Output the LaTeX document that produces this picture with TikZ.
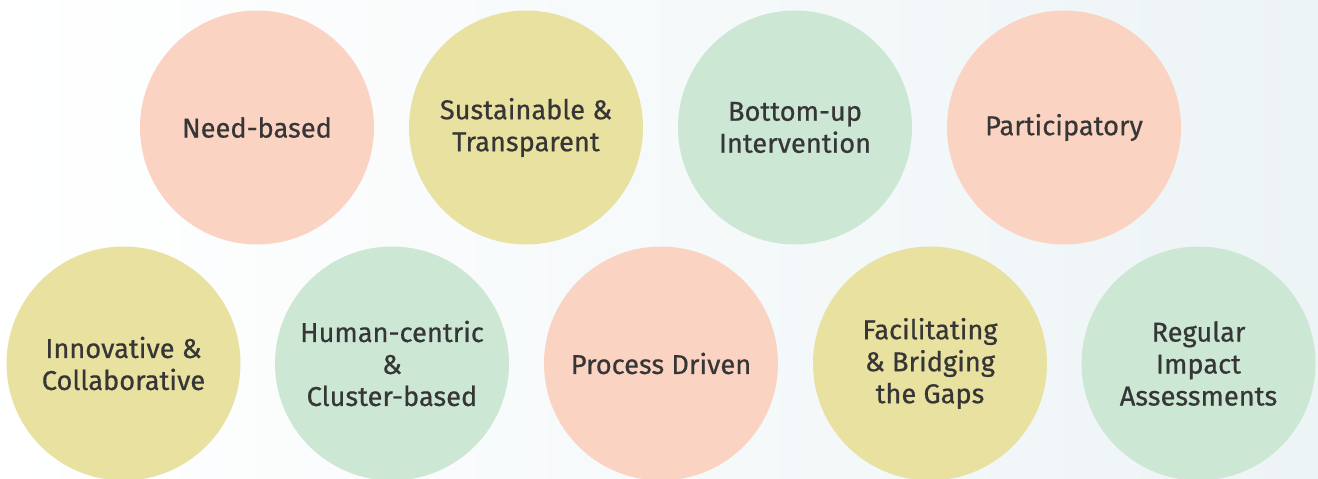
\documentclass[tikz,border=0pt]{standalone}
\usepackage{fontspec}
\setmainfont{Fira Sans}
\newfontfamily\bubblefont{Fira Sans}[FakeBold=0.6]
\usepackage{tikz}

\definecolor{peach}{HTML}{FBD3C3}
\definecolor{sand}{HTML}{E8E1A0}
\definecolor{mint}{HTML}{CDE7D5}
\definecolor{ink}{HTML}{363636}
\definecolor{haze}{HTML}{EDF4F6}

\tikzset{
  bubble/.style={circle, minimum size=4.68cm, inner sep=0pt, align=center,
    text=ink, font=\bubblefont\fontsize{15.5}{18.2}\selectfont},
}

\begin{document}
\begin{tikzpicture}[x=0.02cm, y=0.02cm]

%% Backdrop
\useasboundingbox (0, 0) rectangle (1318, 479);
\clip (0, 0) rectangle (1318, 479);
\shade [left color=white, right color=haze] (0, 0) rectangle (1318, 479);

%% Top row
\node [bubble, fill=peach] (need) at (257, 351.5) {Need-based};
\node [bubble, fill=sand]  (sust) at (526, 351.5) {Sustainable \&\\Transparent};
\node [bubble, fill=mint]  (bott) at (795, 351.5) {Bottom-up\\Intervention};
\node [bubble, fill=peach] (part) at (1064, 351.5) {Participatory};

%% Bottom row
\node [bubble, fill=sand]  (inno) at (123.5, 115.5) {Innovative \&\\Collaborative};
\node [bubble, fill=mint]  (human) at (392, 115.5) {Human-centric\\\&\\Cluster-based};
\node [bubble, fill=peach] (proc) at (661, 115.5) {Process Driven};
\node [bubble, fill=sand]  (faci) at (930, 115.5) {Facilitating\\\& Bridging\\the Gaps};
\node [bubble, fill=mint]  (regu) at (1198.5, 115.5) {Regular\\Impact\\Assessments};

\end{tikzpicture}
\end{document}
